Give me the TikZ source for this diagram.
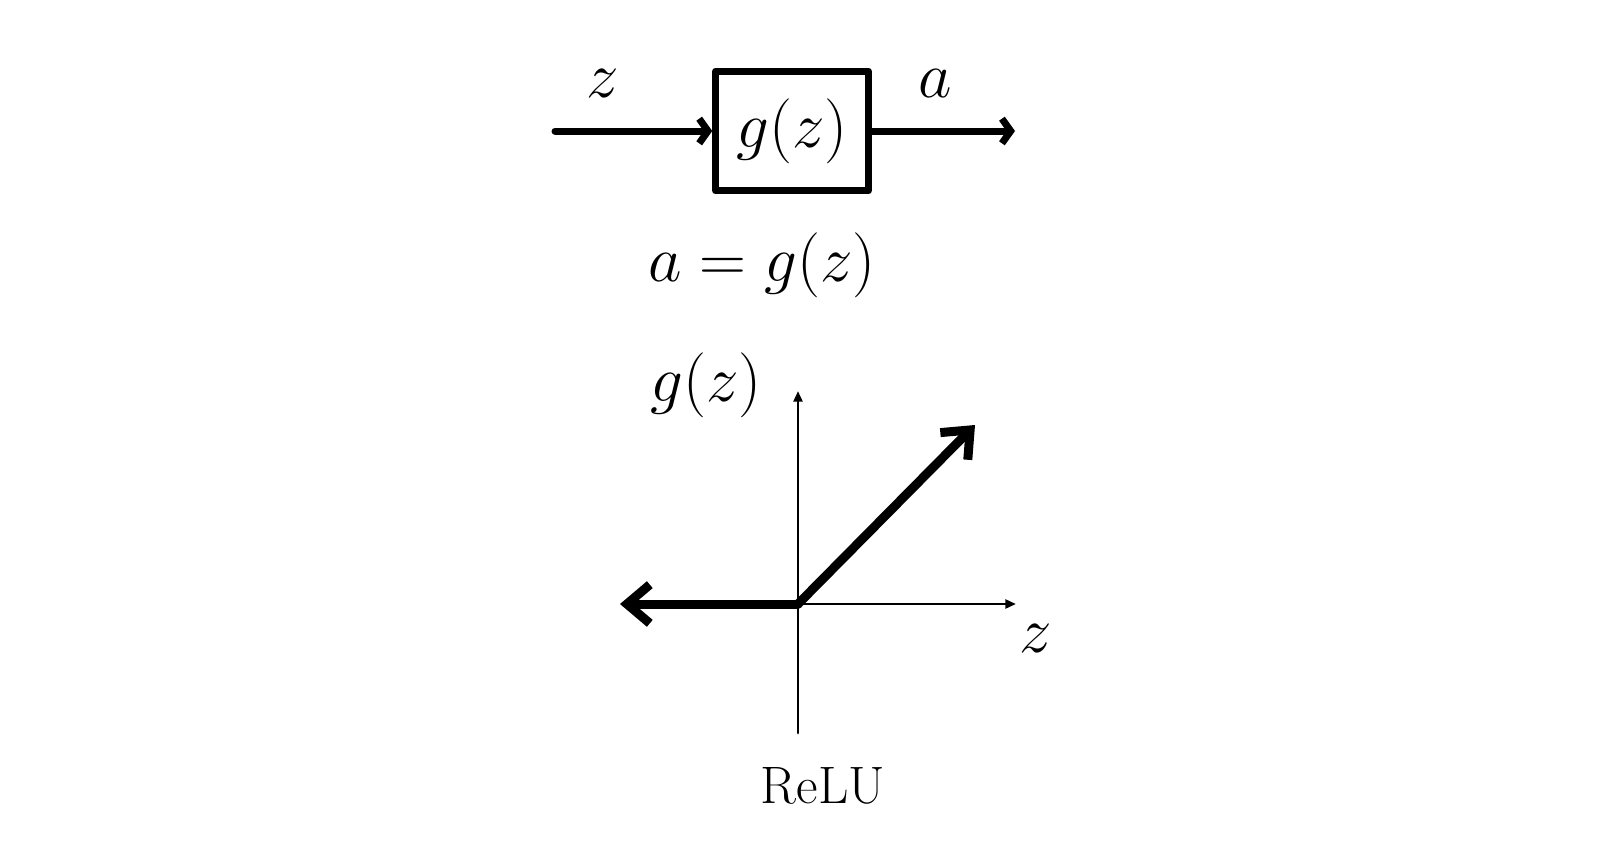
\RequirePackage{fix-cm}
\documentclass[tikz,border=0pt]{standalone}
\usetikzlibrary{arrows.meta}
\begin{document}
\begin{tikzpicture}[x=0.02cm, y=-0.02cm, line cap=round, line join=round,
flow/.style={line width=0.14cm, -{Straight Barb[length=5pt,width=14pt]}},
axis/.style={line width=0.055cm, -{Triangle[length=6pt,width=5pt]}},
relu/.style={line width=0.18cm, -{Straight Barb[length=13pt,width=22pt]}},
main node/.style={rectangle,draw,line width=0.14cm,minimum width=3.05cm,minimum height=2.4cm,inner sep=0pt}]
\useasboundingbox (0,0) rectangle (1600,862);
\begin{scope}[every node/.style={font=\fontsize{37}{44}\selectfont}]
\node [main node](gbox) at (792,131) {$g(z)$};
\node (zin) at (603,84) {$z$};
\node (aout) at (935,84) {$a$};
\node (eq) at (762,265) {$a=g(z)$};
\node (gzlab) at (706,385) {$g(z)$};
\node (zlab) at (1036,638) {$z$};
\end{scope}
\node [font=\fontsize{30}{36}\selectfont](relulab) at (823,786) {ReLU};
\coordinate (in) at (555,131);
\coordinate (out) at (1015,131);
\draw [flow] (in) -- (gbox.west);
\draw [flow] (gbox.east) -- (out);
\coordinate (o) at (798,604);
\coordinate (ytop) at (798,391);
\coordinate (ybot) at (798,733);
\coordinate (xend) at (1016,604);
\coordinate (neg) at (620,604);
\coordinate (pos) at (975,425);
\draw [axis] (ybot) -- (ytop);
\draw [axis] (o) -- (xend);
\draw [relu] (o) -- (neg);
\draw [relu] (o) -- (pos);
\end{tikzpicture}
\end{document}
